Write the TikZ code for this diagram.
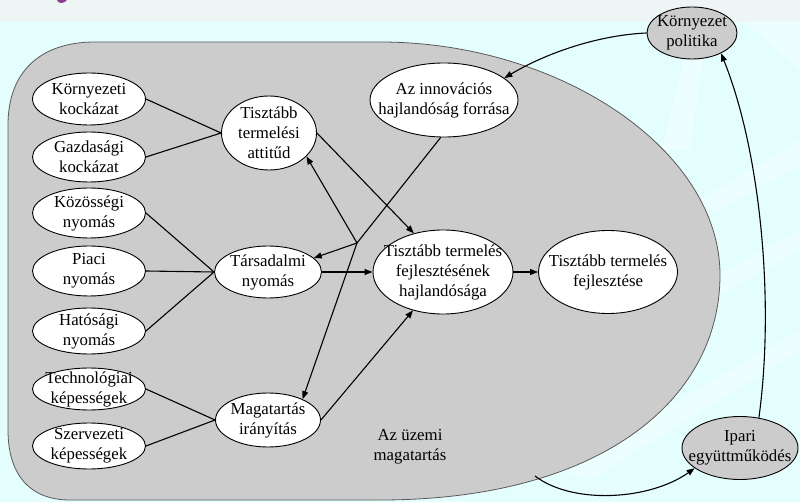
\documentclass[tikz,border=0pt]{standalone}
\usepackage{fontspec}
\setmainfont{Liberation Serif}
\usetikzlibrary{shapes.geometric,arrows.meta}
\definecolor{bgtop}{HTML}{EDF5F5}
\definecolor{bgcyan}{HTML}{E4FEFE}
\definecolor{regiongray}{HTML}{CCCCCC}
\definecolor{regionedge}{HTML}{5A5A5A}
\definecolor{titlepurple}{HTML}{8E3B8E}
\newcommand{\diagfont}{\fontsize{16.8}{20}\selectfont}
\tikzset{
  oval/.style={ellipse, draw=black, line width=0.9pt, fill=white, inner sep=-30pt, align=center, font=\diagfont},
  goval/.style={oval, fill=regiongray},
  conn/.style={draw=black, line width=1.1pt},
  arr/.style={conn, -{Triangle[length=8pt,width=6pt]}},
  ray/.style={fill=white, opacity=0.35, draw=none}
}
\begin{document}
\begin{tikzpicture}[x=1pt,y=-1pt]
% background
\fill[bgcyan] (0,0) rectangle (800,502);
\fill[ray] (693,22) -- (708,22) -- (690,150) -- (662,150) -- cycle;
\fill[ray] (745,22) -- (800,22) -- (800,70) -- cycle;
\fill[ray] (700,200) -- (800,140) -- (800,165) -- (710,215) -- cycle;
\fill[ray] (620,330) -- (800,230) -- (800,250) -- (630,345) -- cycle;
\fill[ray] (560,470) -- (800,330) -- (800,350) -- (590,480) -- cycle;
\fill[bgtop] (0,0) rectangle (800,22.5);
\fill[titlepurple] (57,0) .. controls (58,4) and (64,4) .. (67,0) -- cycle;
\useasboundingbox (0,0) rectangle (800,502);

% region
\path[fill=regiongray, draw=regionedge, line width=0.8pt]
  (380,42) -- (95,42) .. controls (40,42) and (8,72) .. (8,125)
  -- (8,430) .. controls (8,475) and (30,500) .. (70,500)
  -- (380,500) .. controls (600,500) and (720,400) .. (720,275)
  .. controls (720,150) and (560,42) .. (380,42) -- cycle;

% left column
\node[oval, minimum width=113pt, minimum height=52pt] (k1) at (89,99) {Környezeti\\kockázat};
\node[oval, minimum width=113pt, minimum height=50pt] (k2) at (89,157) {Gazdasági\\kockázat};
\node[oval, minimum width=113pt, minimum height=50pt] (k3) at (89,213) {Közösségi\\nyomás};
\node[oval, minimum width=113pt, minimum height=50pt] (k4) at (89,271) {Piaci\\nyomás};
\node[oval, minimum width=113pt, minimum height=46pt] (k5) at (89,331) {Hatósági\\nyomás};
\node[oval, minimum width=113pt, minimum height=42pt] (k6) at (89,389) {Technológiai\\képességek};
\node[oval, minimum width=113pt, minimum height=46pt] (k7) at (89,446) {Szervezeti\\képességek};

% middle column
\node[oval, minimum width=95pt, minimum height=74pt] (a1) at (269,133) {Tisztább\\termelési\\attitűd};
\node[oval, minimum width=107pt, minimum height=52pt] (a2) at (268,272) {Társadalmi\\nyomás};
\node[oval, minimum width=105pt, minimum height=54pt] (a3) at (268,420) {Magatartás\\irányítás};

% right
\node[oval, minimum width=148pt, minimum height=74pt] (r1) at (444,100) {Az innovációs\\hajlandóság forrása};
\node[oval, minimum width=140pt, minimum height=84pt] (r2) at (443,272) {Tisztább termelés\\fejlesztésének\\hajlandósága};
\node[oval, minimum width=139pt, minimum height=83pt] (r3) at (608,272) {Tisztább termelés\\fejlesztése};

% outside
\node[goval, minimum width=90pt, minimum height=52pt] (p) at (692,33) {Környezet\\politika};
\node[goval, minimum width=116pt, minimum height=63pt] (q) at (740,448) {Ipari\\együttműködés};

\node[align=center, font=\diagfont, inner sep=0pt] (lbl) at (410,447) {Az üzemi\\magatartás};

% connectors
\draw[conn] (k1.east) -- (a1.west);
\draw[conn] (k2.east) -- (a1.west);
\draw[conn] (k3.east) -- (a2.west);
\draw[conn] (k4.east) -- (a2.west);
\draw[conn] (k5.east) -- (a2.west);
\draw[conn] (k6.east) -- (a3.west);
\draw[conn] (k7.east) -- (a3.west);

\draw[arr] (a1.east) -- (r2.127);
\draw[arr] (a2.east) -- (r2.west);
\draw[arr] (a3.east) -- (r2.232);
\draw[arr] (r2.east) -- (r3.west);

\coordinate (J) at (357,243);
\draw[conn] (r1.265) -- (J);
\draw[arr] (J) -- (a1.328);
\draw[arr] (J) -- (a2.17);
\draw[arr] (J) -- (a3.31);

\draw[arr] (p.west) .. controls (600,35) and (548,52) .. (r1.20);
\draw[arr] (q.58) .. controls (775,300) and (760,150) .. (p.325);
\coordinate (s) at (535,476);
\draw[arr] (s) .. controls (573,505) and (650,500) .. (q.204);
\end{tikzpicture}
\end{document}
